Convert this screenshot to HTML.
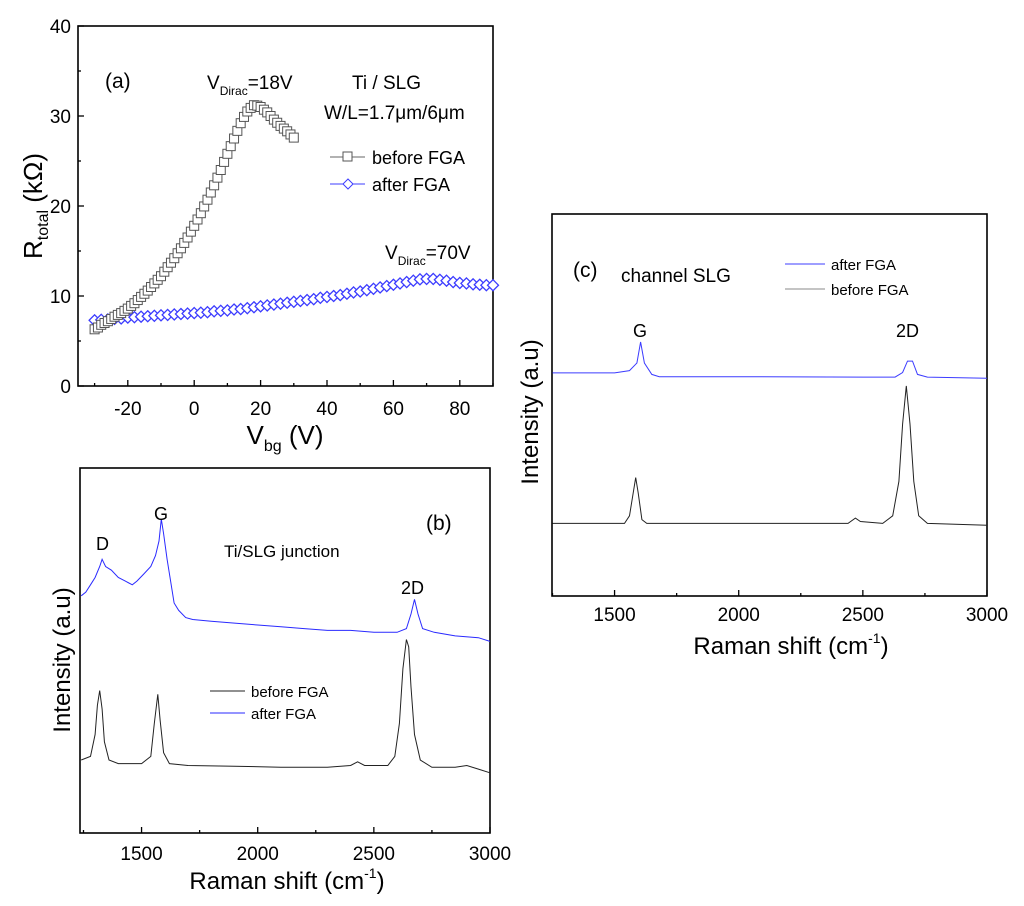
<!DOCTYPE html>
<html><head><meta charset="utf-8"><style>
html,body{margin:0;padding:0;background:#fff;}
svg{display:block;font-family:"Liberation Sans",Arial,sans-serif;}
</style></head><body>
<svg id="fig" width="1024" height="906" viewBox="0 0 1024 906" xmlns="http://www.w3.org/2000/svg">
<g id="pa"></g>
<g id="pb"></g>
<g id="pc"></g>
</svg>
<script>
// Panel (a) data
const aBeforeX=[-30,-29,-28,-27,-26,-25,-24,-23,-22,-21,-20,-19,-18,-17,-16,-15,-14,-13,-12,-11,-10,-9,-8,-7,-6,-5,-4,-3,-2,-1,0,1,2,3,4,5,6,7,8,9,10,11,12,13,14,15,16,17,18,19,20,21,22,23,24,25,26,27,28,29,30];
const aBeforeY=[6.3,6.5,6.8,7.0,7.2,7.45,7.7,7.9,8.1,8.35,8.6,8.9,9.2,9.55,9.9,10.25,10.6,11.0,11.4,11.8,12.2,12.7,13.2,13.7,14.2,14.75,15.3,15.9,16.5,17.15,17.8,18.5,19.2,19.95,20.7,21.5,22.3,23.15,24,24.9,25.8,26.65,27.5,28.35,29.2,29.9,30.5,30.9,31.2,31.15,31,30.7,30.4,30,29.6,29.25,28.9,28.6,28.3,27.95,27.6];
const aAfterX=[-30,-28,-26,-24,-22,-20,-18,-16,-14,-12,-10,-8,-6,-4,-2,0,2,4,6,8,10,12,14,16,18,20,22,24,26,28,30,32,34,36,38,40,42,44,46,48,50,52,54,56,58,60,62,64,66,68,70,72,74,76,78,80,82,84,86,88,90];
const aAfterY=[7.3,7.35,7.4,7.45,7.5,7.6,7.65,7.7,7.75,7.8,7.85,7.9,7.95,8.0,8.05,8.1,8.15,8.2,8.3,8.35,8.4,8.5,8.55,8.65,8.75,8.85,8.95,9.05,9.15,9.25,9.35,9.45,9.55,9.65,9.8,9.9,10.0,10.1,10.25,10.4,10.5,10.65,10.8,10.95,11.1,11.25,11.4,11.55,11.7,11.85,11.9,11.9,11.8,11.7,11.55,11.45,11.4,11.3,11.25,11.2,11.2];
const aXTicks=[-20,0,20,40,60,80];
const aYTicks=[0,10,20,30,40];
// Panel (b) data (Raman shift, intensity a.u.)
const bAfterX=[1240,1260,1280,1300,1320,1330,1345,1370,1400,1430,1460,1480,1510,1540,1560,1575,1585,1595,1610,1625,1640,1660,1690,1720,1800,1900,2000,2100,2200,2300,2400,2500,2600,2640,2660,2675,2690,2710,2760,2850,2950,3000];
const bAfterY=[65,66,68,70,73,75,73,72,70,69,68,69,71,73,76,80,86,82,75,69,63,61,59,58.5,58,57.5,57,56.5,56,55.5,55.5,55,55,56,60,64,60,56,55,54,53.5,52.5];
const bBeforeX=[1240,1280,1300,1310,1320,1330,1340,1360,1400,1450,1500,1540,1555,1570,1580,1595,1620,1700,1900,2100,2300,2400,2430,2460,2560,2590,2610,2625,2640,2650,2660,2675,2700,2750,2850,2900,2950,3000];
const bBeforeY=[20,21,27,35,39,34,25,20,19,19,19,21,30,38,31,22,19,18.5,18.3,18,18,18.5,19.5,18.5,18.5,21,30,45,53,51,40,27,20,18,18,18.5,17.5,16.5];
const bXTicks=[1500,2000,2500,3000];
// Panel (c) data
const cAfterX=[1250,1500,1560,1590,1605,1620,1650,1680,2000,2500,2630,2660,2680,2700,2720,2760,3000];
const cAfterY=[58.4,58.4,59,61,66.5,61,58,57.4,57.4,57.3,57.3,58.5,61.5,61.5,58,57.3,57];
const cBeforeX=[1250,1540,1560,1575,1585,1595,1610,1630,2440,2470,2490,2580,2620,2645,2660,2675,2690,2705,2725,2760,3000];
const cBeforeY=[19,19,21,27,31,27,20,19,19,20.4,19.5,19,21,30,45,55,45,30,21,19,18.5];
const cXTicks=[1500,2000,2500,3000];

const NS='http://www.w3.org/2000/svg';
function mk(parent,tag,attrs,txt){const e=document.createElementNS(NS,tag);for(const k in attrs)e.setAttribute(k,attrs[k]);if(txt!==undefined)e.textContent=txt;parent.appendChild(e);return e;}
function scale(d0,d1,r0,r1){return v=>r0+(v-d0)/(d1-d0)*(r1-r0);}

function frame(g,x0,y0,x1,y1,name){
  const r=mk(g,'rect',{x:x0,y:y0,width:x1-x0,height:y1-y0,fill:'none',stroke:'#000','stroke-width':1.6});
  
  
}
function xTicks(g,sx,ticks,minorStep,xmin,xmax,y1,labelY,fs,name){
  for(let v=Math.ceil(xmin/minorStep)*minorStep;v<=xmax;v+=minorStep){
    const major=ticks.includes(v);
    const l=mk(g,'line',{x1:sx(v),x2:sx(v),y1:y1,y2:y1-(major?6:3),stroke:'#000','stroke-width':1.3});
    
    
  }
  ticks.forEach(v=>{
    const t=mk(g,'text',{x:sx(v),y:labelY,'font-size':fs,'text-anchor':'middle'},String(v));
    
    
  });
}
function polyline(g,sx,sy,xs,ys,color,name){
  const pts=xs.map((x,i)=>sx(x).toFixed(1)+','+sy(ys[i]).toFixed(1)).join(' ');
  const p=mk(g,'polyline',{points:pts,fill:'none',stroke:color,'stroke-width':1});
  
  
}

// ---------- Panel A ----------
(function(){
  const g=document.getElementById('pa');
  const X0=78,X1=493,Y0=26,Y1=386;
  const sx=scale(-35,90,X0,X1), sy=scale(0,40,Y1,Y0);
  frame(g,X0,Y0,X1,Y1,'plot-frame-a');
  xTicks(g,sx,aXTicks,10,-35,90,Y1,415,19,'x-tick-label-a');
  for(let v=0;v<=40;v+=5){
    const major=aYTicks.includes(v);
    const l=mk(g,'line',{x1:X0,x2:X0+(major?6:3),y1:sy(v),y2:sy(v),stroke:'#000','stroke-width':1.3});
    
    
  }
  aYTicks.forEach(v=>{
    const t=mk(g,'text',{x:71,y:sy(v)+7,'font-size':19,'text-anchor':'end'},String(v));
    
    
  });
  aAfterX.forEach((x,i)=>{
    const cx=sx(x),cy=sy(aAfterY[i]),s=5.5;
    const d=mk(g,'polygon',{points:`${cx},${cy-s} ${cx+s},${cy} ${cx},${cy+s} ${cx-s},${cy}`,fill:'#fff',stroke:'#3c3cff','stroke-width':1.3});
    
    
  });
  aBeforeX.forEach((x,i)=>{
    const cx=sx(x),cy=sy(aBeforeY[i]),s=4.5;
    const r=mk(g,'rect',{x:cx-s,y:cy-s,width:2*s,height:2*s,fill:'#fff',stroke:'#555','stroke-width':1});
    
    
  });
})();
</script>
<script>
(function(){
  const g=document.getElementById('pa');
  g.insertAdjacentHTML('beforeend',`
  <text x="105" y="88" font-size="21">(a)</text>
  <text x="207" y="89" font-size="19">V<tspan font-size="12" dy="6">Dirac</tspan><tspan dy="-6">=18V</tspan></text>
  <text x="352" y="89" font-size="19">Ti / SLG</text>
  <text x="324" y="119" font-size="19">W/L=1.7μm/6μm</text>
  <line x1="330" y1="157" x2="365" y2="157" stroke="#666" stroke-width="1"/>
  <rect x="343" y="152" width="9" height="9" fill="#fff" stroke="#555"/>
  <text x="372" y="164" font-size="18">before FGA</text>
  <line x1="330" y1="184" x2="365" y2="184" stroke="#3c3cff" stroke-width="1"/>
  <polygon points="348,179 353,184 348,189 343,184" fill="#fff" stroke="#3c3cff"/>
  <text x="372" y="191" font-size="18">after FGA</text>
  <text x="385" y="259" font-size="19">V<tspan font-size="12" dy="6">Dirac</tspan><tspan dy="-6">=70V</tspan></text>
  <text transform="translate(42,206) rotate(-90)" font-size="26" text-anchor="middle">R<tspan font-size="16" dy="6">total</tspan><tspan dy="-6"> (kΩ)</tspan></text>
  <text x="285" y="444" font-size="26" text-anchor="middle">V<tspan font-size="16" dy="7">bg</tspan><tspan dy="-7"> (V)</tspan></text>
  `);

  const gb=document.getElementById('pb');
  const BX0=80,BX1=490,BY0=468,BY1=833;
  const bsx=scale(1235,3000,BX0,BX1), bsy=scale(0,100,BY1,BY0);
  frame(gb,BX0,BY0,BX1,BY1,'plot-frame-b');
  xTicks(gb,bsx,bXTicks,250,1235,3000,BY1,860,19,'x-tick-label-b');
  polyline(gb,bsx,bsy,bAfterX,bAfterY,'#2a2aff','after-fga-spectrum-b');
  polyline(gb,bsx,bsy,bBeforeX,bBeforeY,'#222','before-fga-spectrum-b');
  gb.insertAdjacentHTML('beforeend',`
  <text x="426" y="530" font-size="21">(b)</text>
  <text x="96" y="550" font-size="18">D</text>
  <text x="154" y="520" font-size="18">G</text>
  <text x="224" y="557" font-size="17">Ti/SLG junction</text>
  <text x="401" y="594" font-size="18">2D</text>
  <line x1="210" y1="691" x2="245" y2="691" stroke="#222" stroke-width="1"/>
  <text x="251" y="697" font-size="15">before FGA</text>
  <line x1="210" y1="713" x2="245" y2="713" stroke="#2a2aff" stroke-width="1"/>
  <text x="251" y="719" font-size="15">after FGA</text>
  <text transform="translate(70,660) rotate(-90)" font-size="24" text-anchor="middle">Intensity (a.u)</text>
  <text x="287" y="889" font-size="24" text-anchor="middle">Raman shift (cm<tspan font-size="14" dy="-11">-1</tspan><tspan dy="11">)</tspan></text>
  `);

  const gc=document.getElementById('pc');
  const CX0=552,CX1=987,CY0=214,CY1=596;
  const csx=scale(1248,3000,CX0,CX1), csy=scale(0,100,CY1,CY0);
  frame(gc,CX0,CY0,CX1,CY1,'plot-frame-c');
  xTicks(gc,csx,cXTicks,250,1248,3000,CY1,621,19,'x-tick-label-c');
  polyline(gc,csx,csy,cAfterX,cAfterY,'#3c3cff','after-fga-spectrum-c');
  polyline(gc,csx,csy,cBeforeX,cBeforeY,'#222','before-fga-spectrum-c');
  gc.insertAdjacentHTML('beforeend',`
  <text x="573" y="277" font-size="21">(c)</text>
  <text x="621" y="282" font-size="19">channel SLG</text>
  <line x1="785" y1="264" x2="825" y2="264" stroke="#3c3cff" stroke-width="1"/>
  <text x="831" y="270" font-size="15">after FGA</text>
  <line x1="785" y1="289" x2="825" y2="289" stroke="#888" stroke-width="1"/>
  <text x="831" y="295" font-size="15">before FGA</text>
  <text x="633" y="337" font-size="18">G</text>
  <text x="896" y="337" font-size="18">2D</text>
  <text transform="translate(538,412) rotate(-90)" font-size="24" text-anchor="middle">Intensity (a.u)</text>
  <text x="791" y="654" font-size="24" text-anchor="middle">Raman shift (cm<tspan font-size="14" dy="-11">-1</tspan><tspan dy="11">)</tspan></text>
  `);
})();
</script>
</body></html>
